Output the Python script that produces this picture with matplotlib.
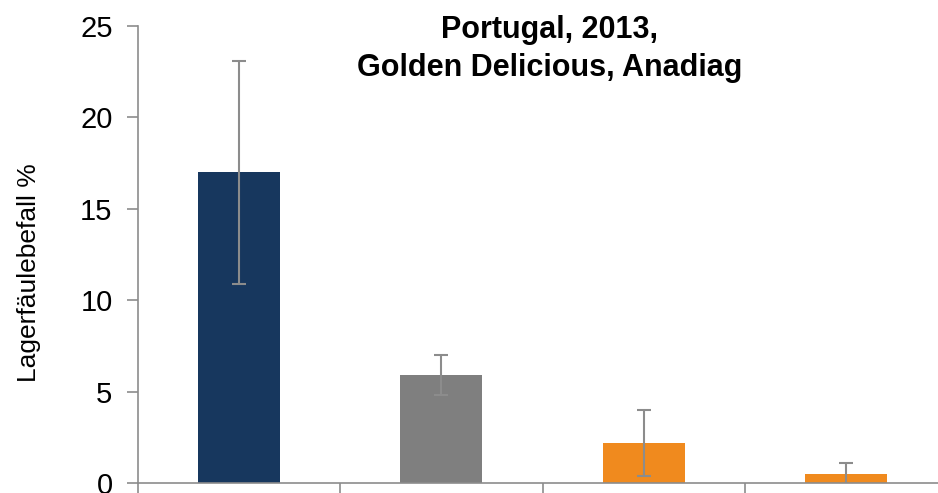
import matplotlib
matplotlib.use("Agg")
import matplotlib.pyplot as plt

plt.rcParams['font.family'] = ['Liberation Sans', 'DejaVu Sans']

categories = ["A", "B", "C", "D"]
values = [17.0, 5.9, 2.2, 0.5]
errors = [6.1, 1.1, 1.8, 0.6]
colors = ["#17375E", "#7F7F7F", "#F08A1E", "#F08A1E"]
yticks = [0, 5, 10, 15, 20, 25]
title = "Portugal, 2013,\nGolden Delicious, Anadiag"
ylabel = "Lagerfäulebefall %"

W, H = 938, 493
ax_left, ax_bottom = 137.5 / W, 1 - 483 / H
ax_w, ax_h = 810 / W, (483 - 26) / H

fig = plt.figure(figsize=(W / 100, H / 100), dpi=100)
ax = fig.add_axes([ax_left, ax_bottom, ax_w, ax_h])

x = list(range(len(categories)))
ax.bar(x, values, width=0.405, color=colors, zorder=2)
ax.errorbar(x, values, yerr=errors, fmt='none', ecolor='#8C8C8C',
            elinewidth=1.5, capsize=5, capthick=1.5, zorder=3)

ax.set_xlim(-0.5, len(categories) - 0.5)
ax.set_ylim(0, 25)
ax.set_yticks(yticks)
ax.set_yticklabels([str(t) for t in yticks], fontsize=21)
ax.set_xticks([i - 0.5 for i in range(len(categories) + 1)])
ax.set_xticklabels([])

for s in ['top', 'right']:
    ax.spines[s].set_visible(False)
for s in ['left', 'bottom']:
    ax.spines[s].set_color('#8C8C8C')
    ax.spines[s].set_linewidth(1.2)
ax.tick_params(axis='y', length=8, width=1.2, color='#8C8C8C', pad=10)
ax.tick_params(axis='x', length=10, width=1.2, color='#8C8C8C')

ax.set_ylabel(ylabel, fontsize=19)
ax.yaxis.set_label_coords((41 - 137.5) / (ax_w * W), (493 - 283) / (ax_h * H))

fig.text(0.586, 1 - 15 / H, title, ha='center', va='top', fontsize=22,
         fontweight='bold', linespacing=1.35)

fig.savefig("out.png", dpi=100)
